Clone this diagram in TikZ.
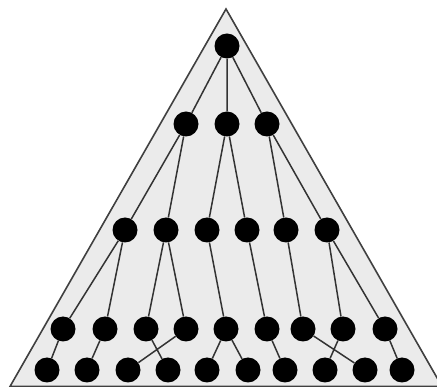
\documentclass[tikz,border=0pt]{standalone}
\begin{document}
\begin{tikzpicture}[x=1pt,y=-1pt,
  dot/.style={circle,fill=black,inner sep=0pt,minimum size=25pt},
  edge/.style={draw=black!80,line width=1.5pt},
  tri/.style={fill=black!8,draw=black!75,line width=1.6pt}]
\useasboundingbox (0,0) rectangle (437,387);
\begin{scope}
\clip (0,0) rectangle (437,387);
\draw[tri] (226,9) -- (442,386.5) -- (10,386.5) -- cycle;
\end{scope}
% level 0
\node[dot] (r) at (227,46) {};
% level 1
\node[dot] (a1) at (186,124) {};
\node[dot] (a2) at (227,124) {};
\node[dot] (a3) at (267,124) {};
% level 2
\node[dot] (b1) at (125,230) {};
\node[dot] (b2) at (166,230) {};
\node[dot] (b3) at (207,230) {};
\node[dot] (b4) at (247,230) {};
\node[dot] (b5) at (286,230) {};
\node[dot] (b6) at (327,230) {};
% level 3
\node[dot] (c1) at (63,329) {};
\node[dot] (c2) at (105,329) {};
\node[dot] (c3) at (146,329) {};
\node[dot] (c4) at (186,329) {};
\node[dot] (c5) at (226,329) {};
\node[dot] (c6) at (267,329) {};
\node[dot] (c7) at (303,329) {};
\node[dot] (c8) at (343,329) {};
\node[dot] (c9) at (385,329) {};
% level 4
\node[dot] (d1) at (47,370) {};
\node[dot] (d2) at (87,370) {};
\node[dot] (d3) at (128,370) {};
\node[dot] (d4) at (168,370) {};
\node[dot] (d5) at (207,370) {};
\node[dot] (d6) at (248,370) {};
\node[dot] (d7) at (285,370) {};
\node[dot] (d8) at (325,370) {};
\node[dot] (d9) at (365,370) {};
\node[dot] (d10) at (402,370) {};
\draw[edge] (r) -- (a1) (r) -- (a2) (r) -- (a3)
  (a1) -- (b1) (a1) -- (b2) (a2) -- (b3) (a2) -- (b4) (a3) -- (b5) (a3) -- (b6)
  (b1) -- (c1) (b1) -- (c2) (b2) -- (c3) (b2) -- (c4) (b3) -- (c5) (b4) -- (c6)
  (b5) -- (c7) (b6) -- (c8) (b6) -- (c9)
  (c1) -- (d1) (c2) -- (d2) (c3) -- (d4) (c4) -- (d3) (c5) -- (d5) (c5) -- (d6)
  (c6) -- (d7) (c7) -- (d9) (c8) -- (d8) (c9) -- (d10);
\end{tikzpicture}
\end{document}
